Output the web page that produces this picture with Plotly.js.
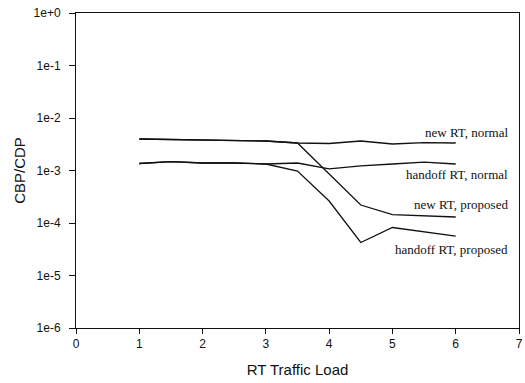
<!DOCTYPE html>
<html>
<head>
<meta charset="utf-8">
<script src="https://cdn.plot.ly/plotly-3.0.1.min.js"></script>
<style>
  html, body { margin: 0; padding: 0; background: #fff; }
  #chart { width: 525px; height: 383px; }
</style>
</head>
<body>
<div id="chart"></div>
<script>
// RT traffic load (x)
const load = [1, 1.5, 2, 2.5, 3, 3.5, 4, 4.5, 5, 5.5, 6];

// Series values (CBP / CDP)
const newNormal      = [3.98e-3, 3.9e-3, 3.81e-3, 3.81e-3, 3.65e-3, 3.34e-3, 3.27e-3, 3.65e-3, 3.2e-3, 3.41e-3, 3.34e-3];
const handoffNormal  = [1.36e-3, 1.48e-3, 1.39e-3, 1.39e-3, 1.33e-3, 1.39e-3, 1.07e-3, 1.22e-3, 1.33e-3, 1.45e-3, 1.33e-3];
const newProposed    = [3.98e-3, 3.9e-3, 3.81e-3, 3.81e-3, 3.65e-3, 3.34e-3, 8.57e-4, 2.2e-4, 1.45e-4, 1.36e-4, 1.3e-4];
const handoffProposed= [1.36e-3, 1.48e-3, 1.39e-3, 1.39e-3, 1.33e-3, 9.78e-4, 2.62e-4, 4.25e-5, 8.2e-5, 6.74e-5, 5.65e-5];

const seriesNames = ["new RT, normal", "handoff RT, normal", "new RT, proposed", "handoff RT, proposed"];
const seriesData = [newNormal, handoffNormal, newProposed, handoffProposed];
// label heights (log10 units) for the in-plot labels
const labelY = [-2.267, -3.067, -3.657, -4.514];

const yTickVals = [1e-6, 1e-5, 1e-4, 1e-3, 1e-2, 1e-1, 1e0];
const yTickText = ["1e-6", "1e-5", "1e-4", "1e-3", "1e-2", "1e-1", "1e+0"];
const xTickVals = [0, 1, 2, 3, 4, 5, 6, 7];

const traces = seriesData.map((d, i) => ({
  x: load, y: d, type: "scatter", mode: "lines", name: seriesNames[i],
  line: { color: "#111", width: 1.3 }, showlegend: false, hoverinfo: "x+y+name"
}));

const annotations = seriesNames.map((n, i) => ({
  text: n, xref: "paper", yref: "y", x: 0.98, y: labelY[i],
  xanchor: "right", yanchor: "middle", showarrow: false,
  font: { family: "Liberation Serif, Times New Roman, serif", size: 13, color: "#111" }
}));

const layout = {
  width: 525, height: 383,
  margin: { l: 76, r: 6, t: 13, b: 55 },
  paper_bgcolor: "#fff", plot_bgcolor: "#fff",
  font: { family: "Liberation Sans, Arial, sans-serif", color: "#111", size: 12 },
  xaxis: {
    range: [0, 7], tickvals: xTickVals, ticks: "outside", ticklen: 5, tickwidth: 1,
    tickcolor: "#111", showline: true, mirror: true, linecolor: "#111", linewidth: 1,
    showgrid: false, zeroline: false, tickfont: { size: 12 },
    title: { text: "RT Traffic Load", font: { size: 15, color: "#111" }, standoff: 14 }
  },
  yaxis: {
    type: "log", range: [-6, 0], tickvals: yTickVals, ticktext: yTickText,
    ticks: "outside", ticklen: 6, tickwidth: 1, tickcolor: "#111",
    showline: true, mirror: true, linecolor: "#111", linewidth: 1,
    showgrid: false, zeroline: false, tickfont: { size: 12 }, ticklabelstandoff: 6,
    title: { text: "CBP/CDP", font: { size: 15, color: "#111" }, standoff: 4 }
  },
  annotations: annotations
};

Plotly.newPlot("chart", traces, layout, { displayModeBar: false, staticPlot: true });
</script>
</body>
</html>
